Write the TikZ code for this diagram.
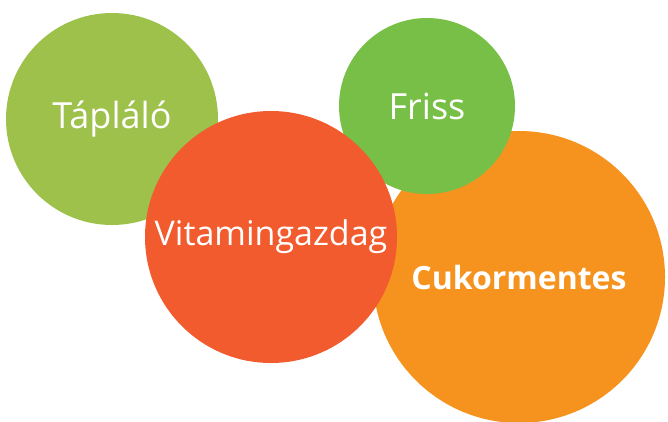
\documentclass[tikz,border=0pt]{standalone}
\usepackage{fontspec}
\setmainfont{Open Sans}
\definecolor{tapgreen}{HTML}{9DC14A}
\definecolor{frissgreen}{HTML}{77BF46}
\definecolor{vitred}{HTML}{F15B2D}
\definecolor{cukorange}{HTML}{F6931F}
\begin{document}
\begin{tikzpicture}[x=1pt,y=-1pt]
	\tikzstyle{every node}=[font=\normalsize]
	\tikzstyle{blob}=[circle, inner sep=0pt, text=white]
	
	\useasboundingbox (0,0) rectangle (668,422); % reference size
	
	\node (taplalo) [blob, fill=tapgreen, minimum size=212pt, font=\fontsize{36}{42}\selectfont] at (112,119) {Tápláló};
	\node (cukor) [blob, fill=cukorange, minimum size=292pt, font=\fontsize{32}{38}\selectfont\bfseries] at (519,277) {Cukormentes};
	\node (friss) [blob, fill=frissgreen, minimum size=176pt, font=\fontsize{36}{42}\selectfont] at (427,106) {Friss};
	\node (vitamin) [blob, fill=vitred, minimum size=252pt, font=\fontsize{34}{40}\selectfont] at (271,237) {Vitamingazdag};
\end{tikzpicture}
\end{document}
